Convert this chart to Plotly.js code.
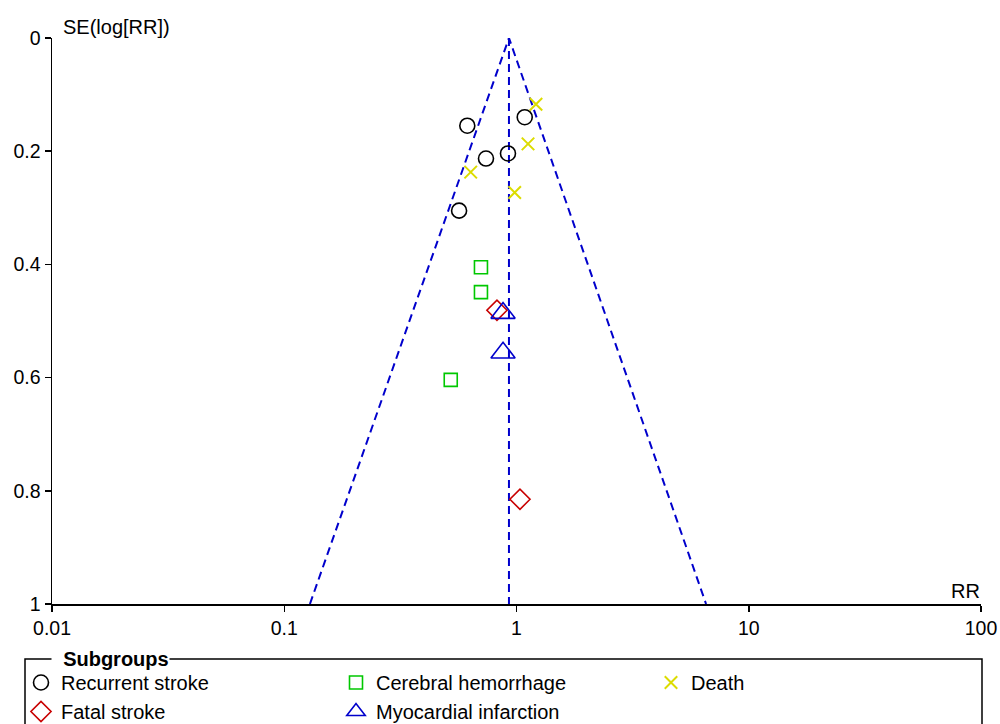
<!DOCTYPE html>
<html>
<head>
<meta charset="utf-8">
<script src="https://cdn.plot.ly/plotly-3.0.1.min.js"></script>
<style>html,body{margin:0;padding:0;background:#fff}#chart{width:1000px;height:724px}</style>
</head>
<body>
<div id="chart"></div>
<script>
// ---- data (RR on log axis, SE(log[RR]) on reversed y) ----
const recurrentRR = [0.614, 1.085, 0.739, 0.919, 0.566];
const recurrentSE = [0.155, 0.140, 0.213, 0.204, 0.305];
const hemorrhageRR = [0.703, 0.703, 0.521];
const hemorrhageSE = [0.405, 0.449, 0.604];
const deathRR = [1.213, 1.121, 0.635, 0.982];
const deathSE = [0.117, 0.187, 0.237, 0.273];
const fatalRR = [0.824, 1.035];
const fatalSE = [0.481, 0.815];
const miRR = [0.875, 0.875];
const miSE = [0.486, 0.556];

// funnel (pseudo 95% limits) and pooled estimate
const funnelRR = [0.129, 0.928, 6.55];
const funnelSE = [1, 0, 1];
const pooledRR = [0.928, 0.928];
const pooledSE = [0, 1];

const xTickVals = [0.01, 0.1, 1, 10, 100];
const xTickText = ['0.01', '0.1', '1', '10', '100'];
const yTickVals = [0, 0.2, 0.4, 0.6, 0.8, 1];
const yTickText = ['0', '0.2', '0.4', '0.6', '0.8', '1'];

const FONT = 'Liberation Sans, Arial, sans-serif';
const BLUE = '#0000cc';

const traces = [
  {x: funnelRR, y: funnelSE, mode: 'lines', showlegend: false, hoverinfo: 'skip',
   line: {color: BLUE, width: 2, dash: '8px,5px'}},
  {x: pooledRR, y: pooledSE, mode: 'lines', showlegend: false, hoverinfo: 'skip',
   line: {color: BLUE, width: 2, dash: '8px,5px'}},
  {x: recurrentRR, y: recurrentSE, mode: 'markers', name: 'Recurrent stroke',
   marker: {symbol: 'circle-open', size: 15, color: '#000000', line: {width: 1.6, color: '#000000'}}},
  {x: hemorrhageRR, y: hemorrhageSE, mode: 'markers', name: 'Cerebral hemorrhage',
   marker: {symbol: 'square-open', size: 13, color: '#00c800', line: {width: 1.6, color: '#00c800'}}},
  {x: deathRR, y: deathSE, mode: 'markers', name: 'Death',
   marker: {symbol: 'x-thin-open', size: 12.5, color: '#dcdc00', line: {width: 2, color: '#dcdc00'}}},
  {x: fatalRR, y: fatalSE, mode: 'markers', name: 'Fatal stroke',
   marker: {symbol: 'diamond-open', size: 15.5, color: '#c80000', line: {width: 1.6, color: '#c80000'}}},
  {x: miRR, y: miSE, mode: 'markers', name: 'Myocardial infarction',
   marker: {symbol: 'triangle-up-open', size: 21, color: BLUE, line: {width: 1.6, color: BLUE}}}
];

const W = 1000, H = 724, L = 52, R = 19, T = 38, B = 120;
const pw = W - L - R, ph = H - T - B;
const px = v => (v - L) / pw;           // pixel x -> paper x
const py = v => (H - B - v) / ph;       // pixel y -> paper y

const layout = {
  width: W, height: H,
  margin: {l: L, r: R, t: T, b: B, autoexpand: false},
  paper_bgcolor: '#ffffff', plot_bgcolor: '#ffffff',
  font: {family: FONT, size: 19.5, color: '#000000'},
  xaxis: {type: 'log', range: [-2, 2], showgrid: false, zeroline: false,
          showline: true, linecolor: '#000', linewidth: 1.5,
          ticks: 'outside', ticklen: 6, tickwidth: 1.5, tickcolor: '#000',
          tickvals: xTickVals, ticktext: xTickText, tickfont: {size: 19.5}},
  yaxis: {range: [1, 0], showgrid: false, zeroline: false,
          showline: true, linecolor: '#000', linewidth: 1.5,
          ticks: 'outside', ticklen: 6, tickwidth: 1.5, tickcolor: '#000',
          tickvals: yTickVals, ticktext: yTickText, tickfont: {size: 19.5}},
  xaxis2: {type: 'log', range: [-2, 2], overlaying: 'x', anchor: 'y', side: 'bottom',
           showgrid: false, zeroline: false, showline: false, showticklabels: false,
           ticks: 'inside', ticklen: 6, tickwidth: 1.5, tickcolor: '#000', tickvals: xTickVals},
  yaxis2: {range: [1, 0], overlaying: 'y', anchor: 'x', side: 'left',
           showgrid: false, zeroline: false, showline: false, showticklabels: false,
           ticks: 'inside', ticklen: 6, tickwidth: 1.5, tickcolor: '#000', tickvals: yTickVals},
  showlegend: true,
  legend: {orientation: 'h', x: px(21), xanchor: 'left', y: py(663), yanchor: 'top',
           bgcolor: 'rgba(0,0,0,0)', borderwidth: 0, font: {size: 20},
           entrywidth: 270, entrywidthmode: 'pixels', traceorder: 'normal',
           itemclick: false, itemdoubleclick: false},
  shapes: [
    {type: 'rect', xref: 'paper', yref: 'paper', x0: px(25), x1: px(982), y0: py(659), y1: py(760),
     line: {color: '#000', width: 1.5}, fillcolor: 'rgba(0,0,0,0)', layer: 'above'}
  ],
  annotations: [
    {text: 'SE(log[RR])', xref: 'paper', yref: 'paper', x: px(61), y: py(27),
     xanchor: 'left', yanchor: 'middle', showarrow: false, font: {size: 20}},
    {text: 'RR', xref: 'paper', yref: 'paper', x: px(982), y: py(591),
     xanchor: 'right', yanchor: 'middle', showarrow: false, font: {size: 20}},
    {text: '&nbsp;&nbsp;<b>Subgroups</b>', xref: 'paper', yref: 'paper', x: px(51), y: py(659),
     xanchor: 'left', yanchor: 'middle', showarrow: false, font: {size: 20},
     bgcolor: '#ffffff', borderpad: 0}
  ]
};

Plotly.newPlot('chart', traces, layout, {staticPlot: true, displayModeBar: false});
</script>
</body>
</html>
